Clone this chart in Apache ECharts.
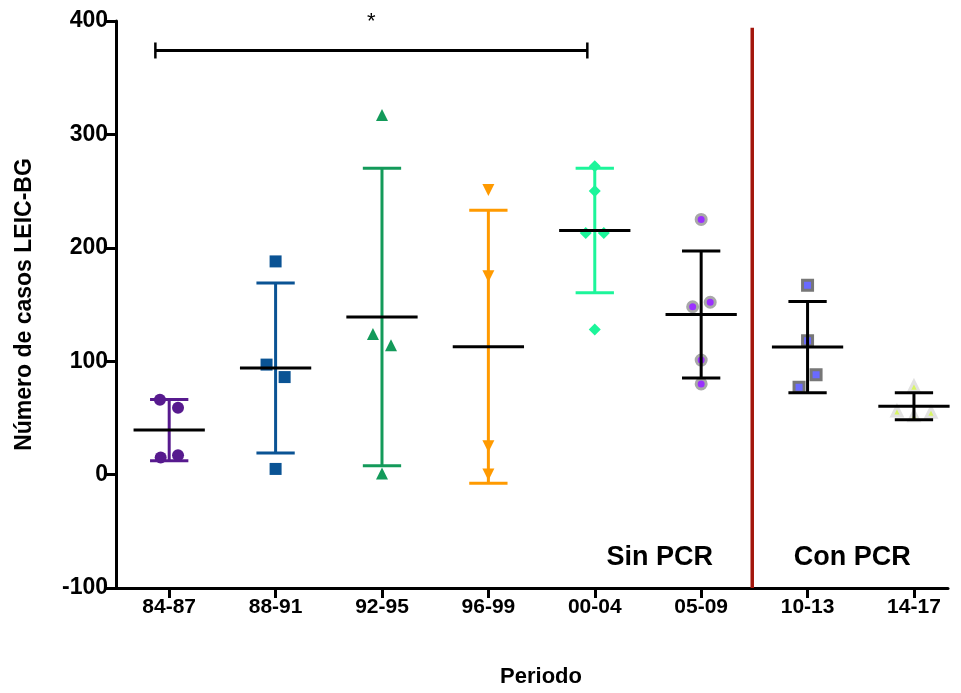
<!DOCTYPE html>
<html>
<head>
<meta charset="utf-8">
<script src="https://cdn.jsdelivr.net/npm/echarts@6/dist/echarts.min.js"></script>
<style>html,body{margin:0;padding:0;background:#fff;}#c{width:961px;height:693px;}</style>
</head>
<body>
<div id="c"></div>
<script>
// ---- data ----
const categories = ['84-87', '88-91', '92-95', '96-99', '00-04', '05-09', '10-13', '14-17'];
const vals8487 = [66, 59, 15, 17];
const vals8891 = [188, 97, 86, 5];
const vals9295 = [317, 124, 114, 1];
const vals9699 = [251, 175, 25, 0];
const vals0004 = [272, 250, 213, 213, 128];
const vals0509 = [225, 148, 152, 101, 80];
const vals1013 = [167, 118, 88, 77];
const vals1417 = [78, 56, 52, 55];
// horizontal scatter offsets of each point (category units)
const jit8487 = [-0.087, 0.083, -0.08, 0.083];
const jit8891 = [0, -0.085, 0.085, 0];
const jit9295 = [0, -0.085, 0.085, 0];
const jit9699 = [0, 0, 0, 0];
const jit0004 = [0, 0, -0.085, 0.085, 0];
const jit0509 = [0, -0.08, 0.085, 0, 0];
const jit1013 = [0, 0, 0.08, -0.08];
const jit1417 = [0, -0.16, 0, 0.16];
const yTickMin = -100, yTickMax = 400, yTickStep = 100;
// annotation
const bracketFrom = -0.13, bracketTo = 3.93, bracketY = 374;
const dividerX = 5.48, dividerTop = 394;
const labelSin = 'Sin PCR', labelCon = 'Con PCR';

// ---- styles ----
const font = "'Liberation Sans', Arial, sans-serif";
const groups = [vals8487, vals8891, vals9295, vals9699, vals0004, vals0509, vals1013, vals1417];
const jits = [jit8487, jit8891, jit9295, jit9699, jit0004, jit0509, jit1013, jit1417];
const markerColors = ['#571a8e', '#0a5394', '#139a5a', '#ff9a00', '#1cf59a', '#9b30ff', '#6a6aff', '#d8f565'];
const barColors = ['#571a8e', '#0a5394', '#139a5a', '#ff9a00', '#1cf59a', '#000', '#000', '#000'];
const symbols = ['circle', 'rect', 'triangle', 'triangle', 'diamond', 'circle', 'rect', 'triangle'];
const rotations = [0, 0, 0, 180, 0, 0, 0, 0];
const borders = [null, null, null, null, null, '#a8a8a8', '#777777', '#e2e2e2'];

function mean(a) { return a.reduce((s, v) => s + v, 0) / a.length; }
function sd(a) { const m = mean(a); return Math.sqrt(a.reduce((s, v) => s + (v - m) * (v - m), 0) / (a.length - 1)); }

const series = [];
groups.forEach((vals, gi) => {
  series.push({
    type: 'scatter',
    symbol: symbols[gi],
    symbolRotate: rotations[gi],
    symbolSize: borders[gi] ? 10 : 12,
    itemStyle: borders[gi]
      ? { color: markerColors[gi], borderColor: borders[gi], borderWidth: 3, opacity: 1 }
      : { color: markerColors[gi], opacity: 1 },
    data: vals.map((v, k) => [gi + jits[gi][k], v]),
    z: 2,
    silent: true
  });
});

const statData = groups.map((vals, gi) => [gi, mean(vals), sd(vals)]);
series.push({
  type: 'custom',
  data: statData,
  z: 5,
  silent: true,
  renderItem: function (params, api) {
    const i = api.value(0), m = api.value(1), s = api.value(2);
    const col = barColors[i];
    const capW = 0.18, meanW = 0.335;
    const top = api.coord([i, m + s]), bot = api.coord([i, m - s]);
    const tl = api.coord([i - capW, m + s]), tr = api.coord([i + capW, m + s]);
    const bl = api.coord([i - capW, m - s]), br = api.coord([i + capW, m - s]);
    const ml = api.coord([i - meanW, m]), mr = api.coord([i + meanW, m]);
    const st = { stroke: col, lineWidth: 3 };
    return {
      type: 'group',
      children: [
        { type: 'line', shape: { x1: top[0], y1: top[1], x2: bot[0], y2: bot[1] }, style: st },
        { type: 'line', shape: { x1: tl[0], y1: tl[1], x2: tr[0], y2: tr[1] }, style: st },
        { type: 'line', shape: { x1: bl[0], y1: bl[1], x2: br[0], y2: br[1] }, style: st },
        { type: 'line', shape: { x1: ml[0], y1: ml[1], x2: mr[0], y2: mr[1] }, style: { stroke: '#000', lineWidth: 3 } }
      ]
    };
  }
});

// annotations (bracket, star, divider, labels)
series.push({
  type: 'custom',
  data: [[0, 0]],
  z: 6,
  silent: true,
  clip: false,
  renderItem: function (params, api) {
    const a = api.coord([bracketFrom, bracketY]), b = api.coord([bracketTo, bracketY]);
    const star = api.coord([(bracketFrom + bracketTo) / 2, 399]);
    const dt = api.coord([dividerX, dividerTop]), db = api.coord([dividerX, yTickMin]);
    const sp = api.coord([4.61, -73]), cp = api.coord([6.42, -73]);
    return {
      type: 'group',
      children: [
        { type: 'line', shape: { x1: a[0], y1: a[1], x2: b[0], y2: b[1] }, style: { stroke: '#000', lineWidth: 3 } },
        { type: 'line', shape: { x1: a[0], y1: a[1] - 8, x2: a[0], y2: a[1] + 8 }, style: { stroke: '#000', lineWidth: 2.5 } },
        { type: 'line', shape: { x1: b[0], y1: b[1] - 8, x2: b[0], y2: b[1] + 8 }, style: { stroke: '#000', lineWidth: 2.5 } },
        { type: 'text', x: star[0], y: star[1], style: { text: '*', fill: '#000', font: '22px ' + font, align: 'center', verticalAlign: 'middle' } },
        { type: 'line', shape: { x1: dt[0], y1: dt[1], x2: db[0], y2: db[1] }, style: { stroke: '#a3160c', lineWidth: 3.5 } },
        { type: 'text', x: sp[0], y: sp[1], style: { text: labelSin, fill: '#000', font: 'bold 27px ' + font, align: 'center', verticalAlign: 'middle' } },
        { type: 'text', x: cp[0], y: cp[1], style: { text: labelCon, fill: '#000', font: 'bold 27px ' + font, align: 'center', verticalAlign: 'middle' } }
      ]
    };
  }
});

const catIdx = categories.map((_, i) => i);
const chart = echarts.init(document.getElementById('c'), null, { renderer: 'canvas' });
chart.setOption({
  animation: false,
  backgroundColor: '#fff',
  grid: { left: 116, right: 13, top: 21, bottom: 104, containLabel: false },
  xAxis: {
    type: 'value',
    min: -0.5,
    max: 7.32,
    name: 'Periodo',
    nameLocation: 'middle',
    nameGap: 78,
    nameTextStyle: { color: '#000', fontFamily: font, fontWeight: 'bold', fontSize: 22, padding: [0, 0, 0, 18] },
    axisLine: { show: true, onZero: false, lineStyle: { color: '#000', width: 3 } },
    axisTick: { show: true, customValues: catIdx, length: 10, lineStyle: { color: '#000', width: 3 } },
    axisLabel: { customValues: catIdx, formatter: v => categories[Math.round(v)], color: '#000', fontFamily: font, fontWeight: 'bold', fontSize: 21, margin: 9 },
    splitLine: { show: false }
  },
  yAxis: {
    type: 'value',
    min: yTickMin,
    max: yTickMax,
    interval: yTickStep,
    name: 'Número de casos LEIC-BG',
    nameLocation: 'middle',
    nameGap: 80,
    nameRotate: 90,
    nameTextStyle: { color: '#000', fontFamily: font, fontWeight: 'bold', fontSize: 23 },
    axisLine: { show: true, onZero: false, lineStyle: { color: '#000', width: 3 } },
    axisTick: { show: true, length: 10, lineStyle: { color: '#000', width: 3 } },
    axisLabel: { color: '#000', fontFamily: font, fontWeight: 'bold', fontSize: 23, margin: 8 },
    splitLine: { show: false }
  },
  series: series
});
</script>
</body>
</html>
